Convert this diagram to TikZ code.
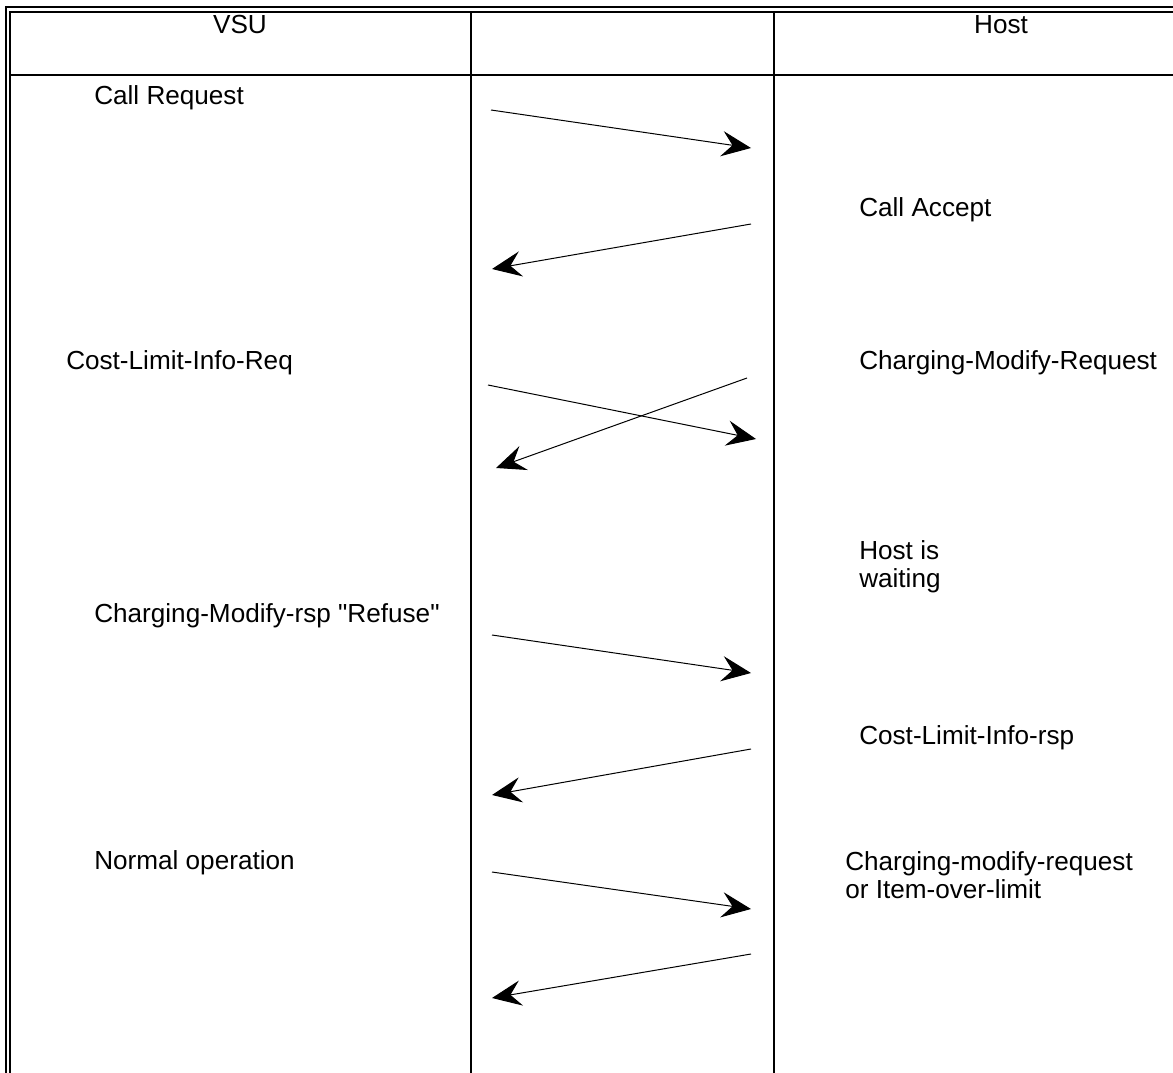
\documentclass[tikz,border=0pt]{standalone}
\usepackage{fontspec}
\setmainfont{Liberation Sans}
\usepackage{tikz}
\usetikzlibrary{arrows, arrows.meta}
\tikzstyle{msg}=[-{Stealth[length=22pt,width=19pt,inset=8pt]}, line width=0.75pt]
\tikzstyle{rule}=[line width=1.5pt]
\tikzset{
    lbl/.style={anchor=base west, inner sep=0pt, font=\fontsize{19.6}{21}\selectfont},
    lbl2/.style={anchor=north west, inner sep=0pt, align=left, font=\fontsize{19.6}{21}\selectfont}
}

\begin{document}
\begin{tikzpicture}[x=0.75pt, y=-0.75pt]
 \useasboundingbox (0,0) rectangle (1173,1073);

 % table frame
 \draw[rule] (1173,7) -- (6,7) -- (6,1073);
 \draw[rule] (1173,12) -- (10,12) -- (10,1073);
 \draw[rule] (10,75) -- (1173,75);
 \draw[rule] (471,12) -- (471,1073);
 \draw[rule] (774,12) -- (774,1073);

 % headers
 \node (vsu)[anchor=base, inner sep=0pt, font=\fontsize{19.6}{21}\selectfont] at (240,34) {VSU};
 \node (host)[anchor=base, inner sep=0pt, font=\fontsize{19.6}{21}\selectfont] at (1001,34) {Host};

 % messages
 \node (req)[lbl] at (94,105) {Call Request};
 \node (acc)[lbl] at (859,217) {Call Accept};
 \node (cli)[lbl] at (66,369) {Cost-Limit-Info-Req};
 \node (cmr)[lbl] at (859,369) {Charging-Modify-Request};
 \node (wait)[lbl2] at (859,540) {Host is\\waiting};
 \node (ref)[lbl] at (94,622) {Charging-Modify-rsp \textquotedbl Refuse\textquotedbl};
 \node (clr)[lbl] at (859,744) {Cost-Limit-Info-rsp};
 \node (norm)[lbl] at (94,869) {Normal operation};
 \node (item)[lbl2] at (845,851) {Charging-modify-request\\or Item-over-limit};

 \coordinate (a1) at (491,110);  \coordinate (b1) at (751,148);
 \coordinate (a2) at (751,224);  \coordinate (b2) at (492,269);
 \coordinate (a3) at (488,385);  \coordinate (b3) at (756,439);
 \coordinate (a4) at (747,378);  \coordinate (b4) at (496,468);
 \coordinate (a5) at (492,635);  \coordinate (b5) at (751,673);
 \coordinate (a6) at (751,749);  \coordinate (b6) at (492,795);
 \coordinate (a7) at (492,872);  \coordinate (b7) at (751,909);
 \coordinate (a8) at (751,954);  \coordinate (b8) at (492,998);

 \foreach \i in {1,...,8}
   \draw[msg] (a\i) -- (b\i);

\end{tikzpicture}
\end{document}
